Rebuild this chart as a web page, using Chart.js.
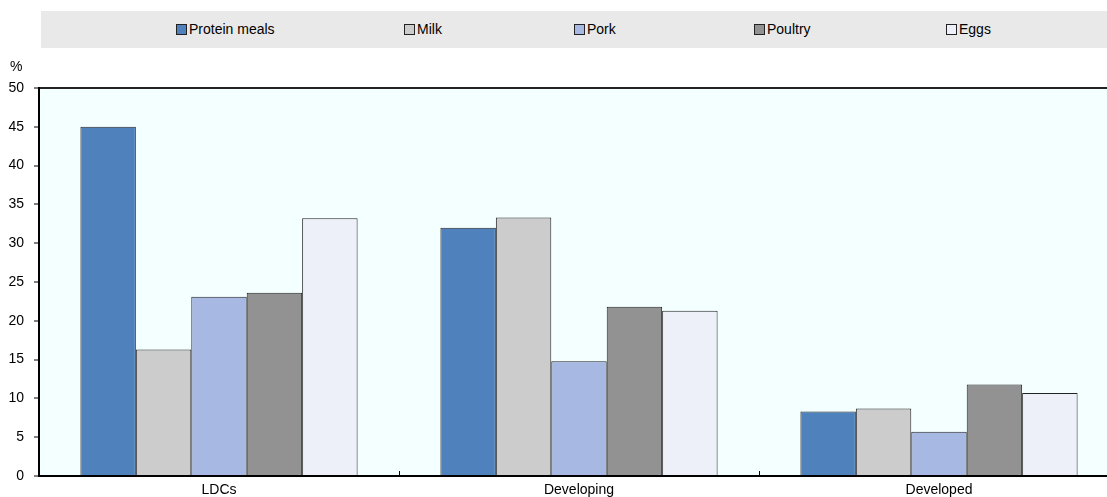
<!DOCTYPE html>
<html>
<head>
<meta charset="utf-8">
<script src="https://cdn.jsdelivr.net/npm/chart.js@4"></script>
<style>
  body { margin: 0; width: 1107px; height: 497px; overflow: hidden; background: #fff; font-family: "Liberation Sans", Arial, sans-serif; }
  #wrap { position: relative; width: 1107px; height: 497px; overflow: hidden; }
  #chartBox { position: absolute; left: 0; top: 0; width: 1120px; height: 497px; }
  #legend { position: absolute; left: 41px; top: 11px; width: 1080px; height: 37px; background: #e9e9e9; }
  .item { position: absolute; top: 10px; font-size: 14px; line-height: 17px; color: #000; white-space: nowrap; }
  .item span { display: inline-block; width: 9px; height: 9px; border: 1px solid #222; margin-right: 2px; vertical-align: -1px; }
  #unit { position: absolute; left: 10px; top: 58px; font-size: 14px; color: #000; }
</style>
</head>
<body>
<div id="wrap">
  <div id="chartBox"><canvas id="myBarChart"></canvas></div>
  <div id="legend"></div>
  <div id="unit">%</div>
</div>
<script>
const regions = ['LDCs', 'Developing', 'Developed'];
const proteinMeals = [45.0, 32.0, 8.3];
const milk = [16.3, 33.3, 8.7];
const pork = [23.1, 14.8, 5.7];
const poultry = [23.6, 21.8, 11.8];
const eggs = [33.2, 21.3, 10.7];
const yTicks = [0, 5, 10, 15, 20, 25, 30, 35, 40, 45, 50];

const series = [
  { label: 'Protein meals', data: proteinMeals, color: '#4f81bd' },
  { label: 'Milk', data: milk, color: '#cccccc' },
  { label: 'Pork', data: pork, color: '#a7b9e3' },
  { label: 'Poultry', data: poultry, color: '#929292' },
  { label: 'Eggs', data: eggs, color: '#edf0f8' }
];

// legend drawn as html, positions picked by eye
const legendLeft = [135, 363, 533, 713, 905];
const legend = document.getElementById('legend');
series.forEach((s, i) => {
  const div = document.createElement('div');
  div.className = 'item';
  div.style.left = legendLeft[i] + 'px';
  div.innerHTML = '<span style="background:' + s.color + '"></span>' + s.label;
  legend.appendChild(div);
});

// light background behind the plot area
const plotBg = {
  id: 'plotBg',
  beforeDraw(chart) {
    const a = chart.chartArea;
    const ctx = chart.ctx;
    ctx.save();
    ctx.fillStyle = '#f4ffff';
    ctx.fillRect(a.left, a.top, a.right - a.left, a.bottom - a.top);
    ctx.restore();
  }
};

// small tick marks between categories, pointing up into the plot
const innerTicks = {
  id: 'innerTicks',
  afterDraw(chart) {
    const x = chart.scales.x;
    const ctx = chart.ctx;
    ctx.save();
    ctx.strokeStyle = '#000';
    ctx.lineWidth = 1;
    for (let i = 1; i < regions.length; i++) {
      const px = Math.round((x.getPixelForValue(i - 1) + x.getPixelForValue(i)) / 2) + 0.5;
      ctx.beginPath();
      ctx.moveTo(px, x.top);
      ctx.lineTo(px, x.top - 5);
      ctx.stroke();
    }
    ctx.restore();
  }
};

const ctx = document.getElementById('myBarChart').getContext('2d');

myBarChart = new Chart(ctx, {
  type: 'bar',
  data: {
    labels: regions,
    datasets: series.map(s => ({
      label: s.label,
      data: s.data,
      backgroundColor: s.color,
      borderColor: '#222',
      borderWidth: 1,
      barPercentage: 1,
      categoryPercentage: 0.77
    }))
  },
  options: {
    responsive: true,
    maintainAspectRatio: false,
    animation: false,
    layout: { padding: { top: 88, right: 1, bottom: 0, left: 0 } },
    plugins: {
      legend: { display: false },
      tooltip: { enabled: false }
    },
    scales: {
      x: {
        grid: { display: false, drawTicks: false },
        border: { display: true, color: '#000', width: 2 },
        ticks: { color: '#000', padding: 6, font: { family: 'Liberation Sans', size: 14 } },
        afterFit(scale) { scale.height = 21; }
      },
      y: {
        min: 0,
        max: 50,
        afterBuildTicks(scale) { scale.ticks = yTicks.map(v => ({ value: v })); },
        grid: {
          drawOnChartArea: true,
          color: c => (c.tick && c.tick.value === 50) ? '#222' : 'rgba(0,0,0,0)',
          lineWidth: 2,
          tickColor: '#000',
          tickLength: 5,
          tickWidth: 1
        },
        border: { display: true, color: '#000', width: 2 },
        ticks: { color: '#000', padding: 10, font: { family: 'Liberation Sans', size: 14 } },
        afterFit(scale) { scale.width = 39; }
      }
    }
  },
  plugins: [plotBg, innerTicks]
});
</script>
</body>
</html>
